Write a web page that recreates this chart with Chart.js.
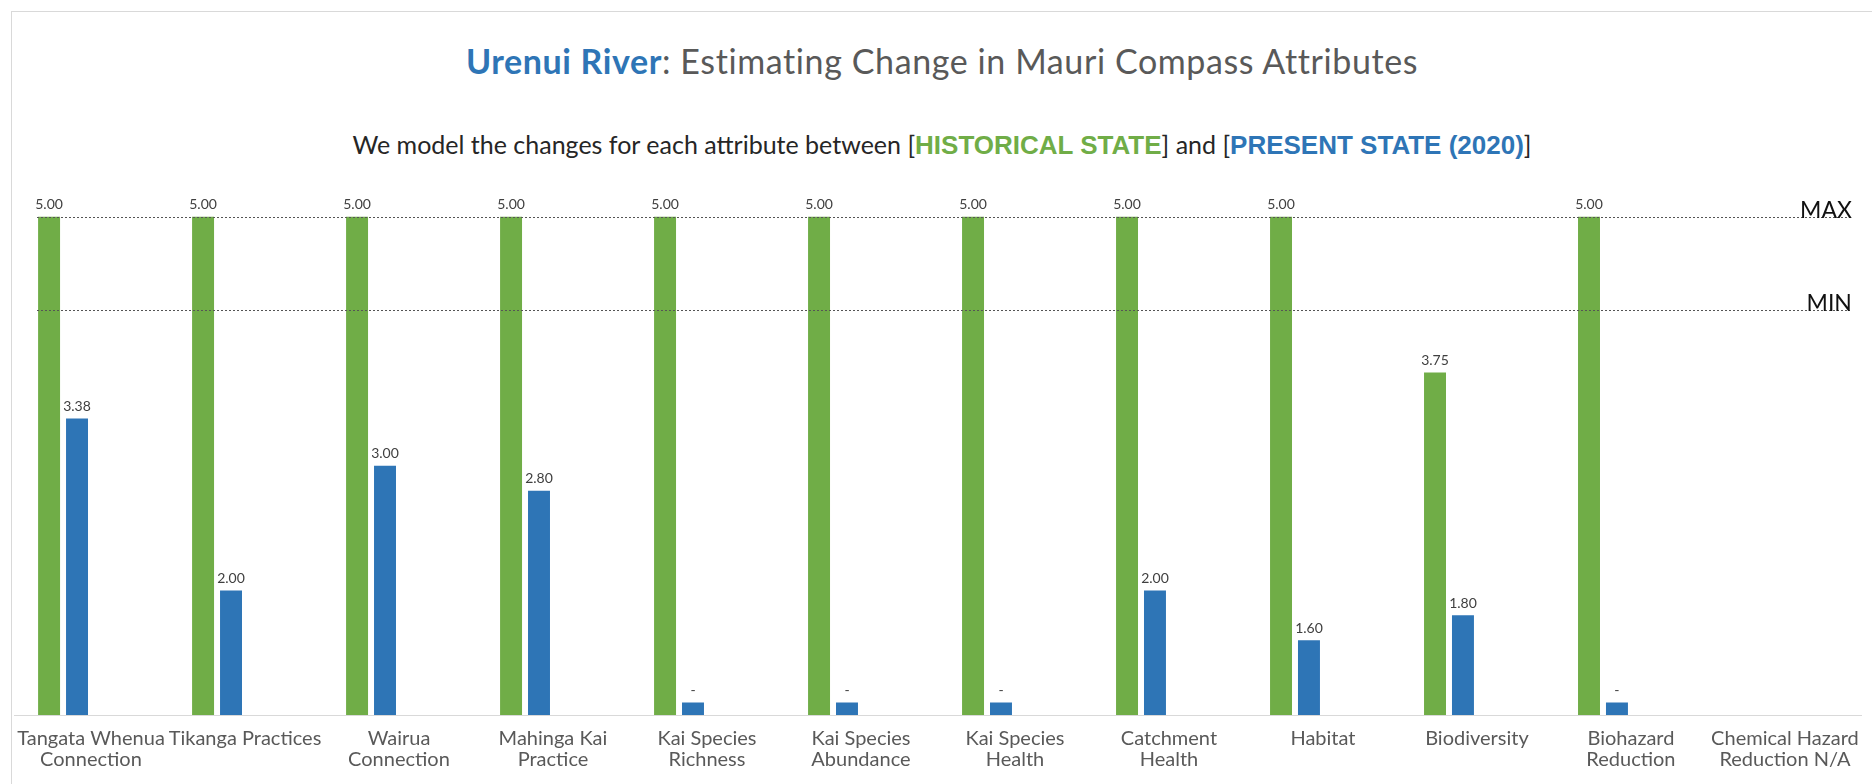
<!DOCTYPE html>
<html>
<head>
<meta charset="utf-8">
<title>Urenui River: Estimating Change in Mauri Compass Attributes</title>
<script src="https://cdn.jsdelivr.net/npm/chart.js@4.4.1/dist/chart.umd.min.js"></script>
<style>
  html, body { margin: 0; padding: 0; background: #fff; }
  body { width: 1872px; height: 784px; position: relative; overflow: hidden; font-family: Lato, 'Open Sans', sans-serif; }
  #frame { position: absolute; left: 11px; top: 11px; width: 1880px; height: 800px; border: 1px solid #d9d9d9; }
  #title { position: absolute; left: 12px; right: 0; top: 43px; text-align: center; font-size: 34px; line-height: 36px; letter-spacing: 0.6px; color: #595959; }
  #title b { color: #2E75B6; }
  #subtitle { position: absolute; left: 12px; right: 0; top: 130px; text-align: center; font-size: 25px; line-height: 28px; color: #262626; }
  .tag { font-family: 'Liberation Sans Narrow', 'Arial Narrow', sans-serif; font-weight: bold; font-size: 26px; }
  .hist { color: #70AD47; }
  .pres { color: #2E75B6; }
  #chart { position: absolute; left: 0; top: 0; }
</style>
</head>
<body>
<div id="frame"></div>
<div id="title"><b>Urenui River</b>: Estimating Change in Mauri Compass Attributes</div>
<div id="subtitle">We model the changes for each attribute between [<span class="tag hist">HISTORICAL STATE</span>] and [<span class="tag pres">PRESENT STATE (2020)</span>]</div>
<canvas id="chart" width="1872" height="784"></canvas>
<script>
const categories = [
  ['Tangata Whenua', 'Connection'],
  ['Tikanga Practices'],
  ['Wairua', 'Connection'],
  ['Mahinga Kai', 'Practice'],
  ['Kai Species', 'Richness'],
  ['Kai Species', 'Abundance'],
  ['Kai Species', 'Health'],
  ['Catchment', 'Health'],
  ['Habitat'],
  ['Biodiversity'],
  ['Biohazard', 'Reduction'],
  ['Chemical Hazard', 'Reduction N/A']
];

const historicalVals = [5.00, 5.00, 5.00, 5.00, 5.00, 5.00, 5.00, 5.00, 5.00, 3.75, 5.00, null];
// 1.1 = floor of the scale, attribute not scored yet (shown as "-")
const presentVals = [3.38, 2.00, 3.00, 2.80, 1.1, 1.1, 1.1, 2.00, 1.60, 1.80, 1.1, null];
// two empty series slots, so each pair sits on the left of its label
const futureVals = [null, null, null, null, null, null, null, null, null, null, null, null];
const restoredVals = [null, null, null, null, null, null, null, null, null, null, null, null];

const scoreMax = 5.00;
const scoreMin = 4.25;

const GREEN = '#70AD47';
const BLUE = '#2E75B6';

// value labels above the two visible series
const valueLabels = {
  id: 'valueLabels',
  afterDatasetsDraw(chart) {
    const ctx = chart.ctx;
    ctx.save();
    ctx.font = '14px Lato, sans-serif';
    ctx.fillStyle = '#404040';
    ctx.textAlign = 'center';
    ctx.textBaseline = 'bottom';
    [0, 1].forEach(i => {
      const meta = chart.getDatasetMeta(i);
      chart.data.datasets[i].data.forEach((v, j) => {
        if (v == null) return;
        const bar = meta.data[j];
        const txt = v <= 1.1 ? '-' : v.toFixed(2);
        ctx.fillText(txt, bar.x, bar.y - 5);
      });
    });
    ctx.restore();
  }
};

// dotted MAX / MIN reference lines
const thresholdLines = {
  id: 'thresholdLines',
  afterDatasetsDraw(chart) {
    const { ctx, chartArea, scales } = chart;
    const x0 = chartArea.left + 23;
    const x1 = chartArea.right - 12;
    ctx.save();
    [[scoreMax, 'MAX'], [scoreMin, 'MIN']].forEach(([v, name]) => {
      const y = Math.round(scales.y.getPixelForValue(v)) + 0.5;
      ctx.strokeStyle = '#555';
      ctx.lineWidth = 1;
      ctx.setLineDash([2, 2]);
      ctx.beginPath();
      ctx.moveTo(x0, y);
      ctx.lineTo(x1, y);
      ctx.stroke();
      ctx.setLineDash([]);
      ctx.font = '23px Lato, sans-serif';
      ctx.fillStyle = '#111';
      ctx.textAlign = 'right';
      ctx.textBaseline = 'alphabetic';
      ctx.fillText(name, x1 + 2, y);
    });
    ctx.restore();
  }
};

const barOpts = { barPercentage: 0.786, categoryPercentage: 0.726 };

new Chart(document.getElementById('chart'), {
  type: 'bar',
  data: {
    labels: categories,
    datasets: [
      { label: 'Historical State', data: historicalVals, backgroundColor: GREEN, ...barOpts },
      { label: 'Present State (2020)', data: presentVals, backgroundColor: BLUE, ...barOpts },
      { label: 'Future State', data: futureVals, backgroundColor: '#A5A5A5', ...barOpts },
      { label: 'Restored State', data: restoredVals, backgroundColor: '#FFC000', ...barOpts }
    ]
  },
  options: {
    responsive: false,
    animation: false,
    layout: { padding: { left: 14, right: 6, top: 142, bottom: 0 } },
    plugins: {
      legend: { display: false },
      tooltip: { enabled: false },
      title: { display: false }
    },
    scales: {
      x: {
        grid: { display: false, drawTicks: false },
        border: { display: true, color: '#d9d9d9', width: 1 },
        ticks: {
          color: '#595959',
          font: { family: 'Lato', size: 20, lineHeight: 1.05 },
          padding: 13,
          maxRotation: 0,
          autoSkip: false
        },
        afterFit: s => { s.height = 69; }
      },
      y: { display: false, min: 1, max: 5.6 }
    }
  },
  plugins: [valueLabels, thresholdLines]
});
</script>
</body>
</html>
